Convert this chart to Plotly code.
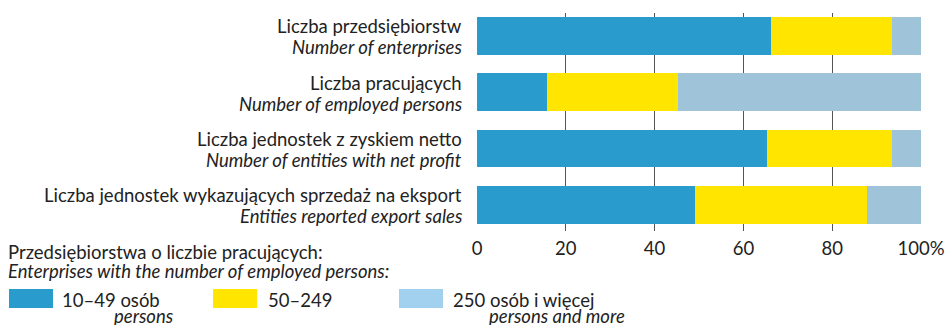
import plotly.graph_objects as go

# Share of enterprises by size class (%)
categories_pl = [
    "Liczba przedsiębiorstw",
    "Liczba pracujących",
    "Liczba jednostek z zyskiem netto",
    "Liczba jednostek wykazujących sprzedaż na eksport",
]
categories_en = [
    "Number of enterprises",
    "Number of employed persons",
    "Number of entities with net profit",
    "Entities reported export sales",
]
small = [66.2, 15.7, 65.3, 49.1]      # 10–49 persons
medium = [27.3, 29.5, 28.2, 38.8]     # 50–249
large = [6.5, 54.8, 6.5, 12.1]        # 250 and more

tick_vals = [0, 20, 40, 60, 80, 100]
tick_text = ["0", "20", "40", "60", "80", "100%"]

legend_title_pl = "Przedsiębiorstwa o liczbie pracujących:"
legend_title_en = "Enterprises with the number of employed persons:"
legend_pl = ["10–49 osób", "50–249", "250 osób i więcej"]
legend_en = ["persons", "", "persons and more"]

BLUE = "#2A9BCD"
YELLOW = "#FFE500"
LIGHT = "#9FC4D9"
LIGHT_SWATCH = "#A2D1F0"
TEXT = "#222222"
FONT = "Lato"
FS = 18.5

W, H = 952, 325
ML, MR, MT, MB = 477, 31, 13, 94
PW, PH = W - ML - MR, H - MT - MB


def px(x):
    return (x - ML) / PW


def py(y):
    return (H - MB - y) / PH


def label(x, y, text, anchor="left", italic=False):
    return dict(
        xref="paper", yref="paper", x=px(x), y=py(y), xanchor=anchor,
        yanchor="middle", showarrow=False, borderpad=0,
        text=f"<i>{text}</i>" if italic else text,
        font=dict(family=FONT, size=FS, color=TEXT),
    )


idx = list(range(len(categories_pl)))

fig = go.Figure()
for vals, col in [(small, BLUE), (medium, YELLOW), (large, LIGHT)]:
    fig.add_trace(go.Bar(
        y=idx, x=vals, orientation="h", marker=dict(color=col, line_width=0),
        width=0.67, showlegend=False, hoverinfo="skip",
    ))

annotations = []
for i, (pl, en) in enumerate(zip(categories_pl, categories_en)):
    for text, shift in [(pl, 9.5), (f"<i>{en}</i>", -11.5)]:
        annotations.append(dict(
            xref="paper", yref="y", x=0, y=i, xanchor="right", yanchor="middle",
            xshift=-14, yshift=shift, showarrow=False, borderpad=0, text=text,
            font=dict(family=FONT, size=FS, color=TEXT),
        ))

# Legend block
annotations.append(label(7, 252, legend_title_pl))
annotations.append(label(7, 271, legend_title_en, italic=True))

swatch_x = [9, 213, 399]
swatch_col = [BLUE, YELLOW, LIGHT_SWATCH]
text_x = [61, 267, 452]
second_x = [113, None, 488]
shapes = []
for sx, col, tx, pl, en, ex in zip(swatch_x, swatch_col, text_x, legend_pl, legend_en, second_x):
    shapes.append(dict(
        type="rect", xref="paper", yref="paper",
        x0=px(sx), x1=px(sx + 44), y0=py(308), y1=py(289),
        fillcolor=col, line_width=0, layer="above",
    ))
    annotations.append(label(tx, 299.5, pl))
    if en:
        annotations.append(label(ex, 315.5, en, italic=True))

fig.update_layout(
    template="none",
    barmode="stack",
    width=W, height=H,
    margin=dict(l=ML, r=MR, t=MT, b=MB, pad=0, autoexpand=False),
    paper_bgcolor="white", plot_bgcolor="white",
    xaxis=dict(
        range=[0, 100], tickvals=tick_vals, ticktext=tick_text,
        showgrid=True, gridcolor="#555555", gridwidth=1,
        zeroline=False, showline=False, ticks="", automargin=False,
        ticklabelstandoff=4,
        tickfont=dict(family=FONT, size=FS, color=TEXT),
        fixedrange=True,
    ),
    yaxis=dict(
        range=[3.465, -0.405], showticklabels=False, showgrid=False,
        zeroline=False, showline=False, fixedrange=True, automargin=False,
    ),
    annotations=annotations,
    shapes=shapes,
    font=dict(family=FONT, color=TEXT),
)

fig.write_html("out.html")
